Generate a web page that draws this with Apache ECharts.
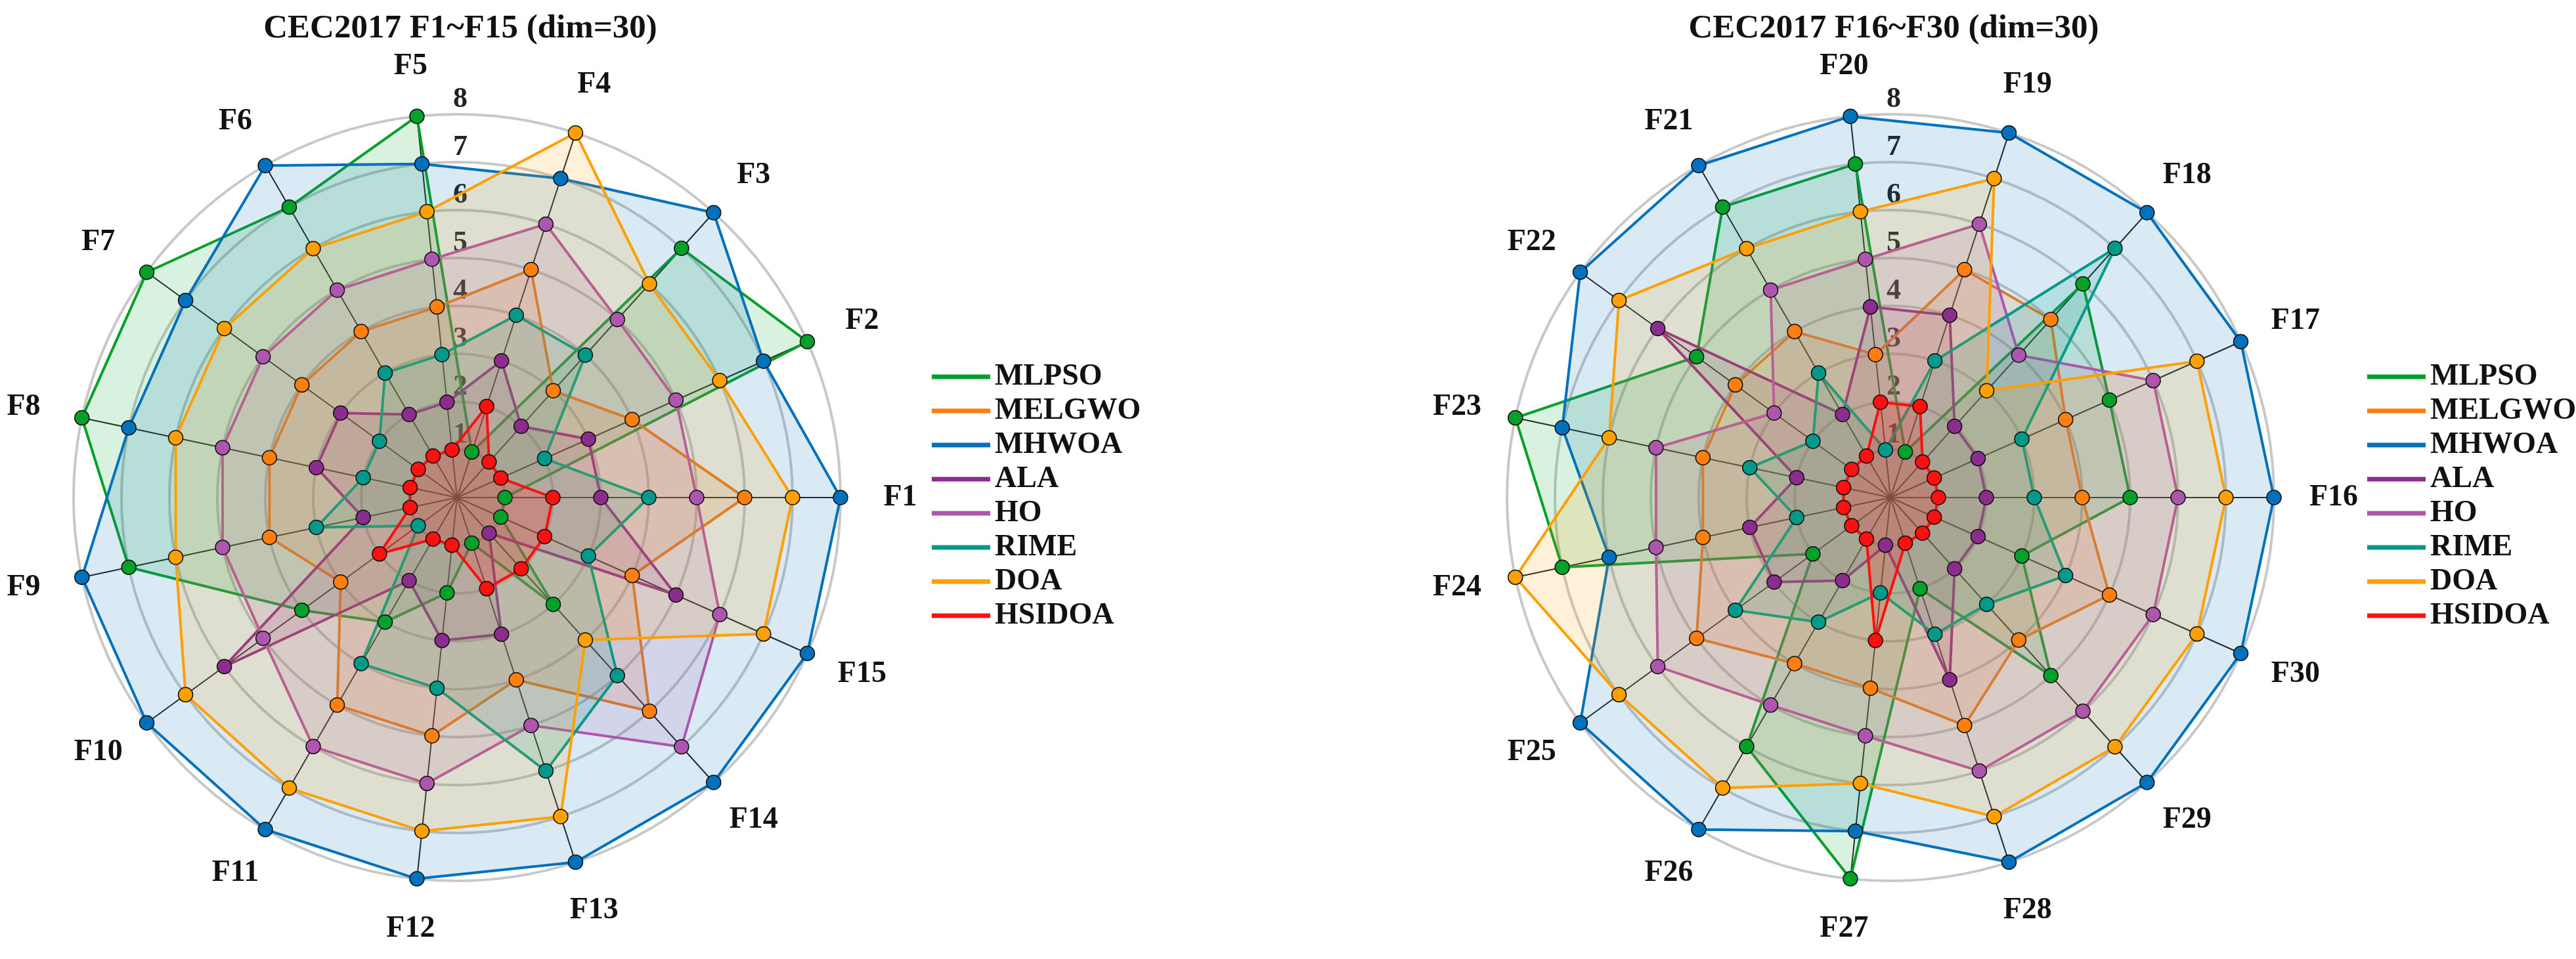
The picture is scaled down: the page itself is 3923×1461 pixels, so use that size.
<!DOCTYPE html>
<html><head><meta charset="utf-8">
<script src="https://cdn.jsdelivr.net/npm/echarts@6/dist/echarts.min.js"></script>
<style>html,body{margin:0;padding:0;background:#fff}#c{width:3923px;height:1461px}</style>
</head><body><div id="c"></div>
<script>
// ---------- data ----------
const algorithms = ['MLPSO', 'MELGWO', 'MHWOA', 'ALA', 'HO', 'RIME', 'DOA', 'HSIDOA'];
const funcsA = ['F1','F2','F3','F4','F5','F6','F7','F8','F9','F10','F11','F12','F13','F14','F15'];
const funcsB = ['F16','F17','F18','F19','F20','F21','F22','F23','F24','F25','F26','F27','F28','F29','F30'];
const radialTicks = ['1','2','3','4','5','6','7','8'];
const titleA = 'CEC2017 F1~F15 (dim=30)';
const titleB = 'CEC2017 F16~F30 (dim=30)';

// Friedman ranks, F1..F15
const rankA_MLPSO  = [1, 8, 7, 1, 8, 7, 8, 8, 7, 4, 3, 2, 1, 3, 1];
const rankA_MELGWO = [6, 4, 3, 5, 4, 4, 4, 4, 4, 3, 5, 5, 4, 6, 4];
const rankA_MHWOA  = [8, 7, 8, 7, 7, 8, 7, 7, 8, 8, 8, 8, 8, 8, 8];
const rankA_ALA    = [3, 3, 2, 3, 2, 2, 3, 3, 2, 6, 2, 3, 3, 1, 5];
const rankA_HO     = [5, 5, 5, 6, 5, 5, 5, 5, 5, 5, 6, 6, 5, 7, 6];
const rankA_RIME   = [4, 2, 4, 4, 3, 3, 2, 2, 3, 1, 4, 4, 6, 5, 3];
const rankA_DOA    = [7, 6, 6, 8, 6, 6, 6, 6, 6, 7, 7, 7, 7, 4, 7];
const rankA_HSIDOA = [2, 1, 1, 2, 1, 1, 1, 1, 1, 2, 1, 1, 2, 2, 2];

// Friedman ranks, F16..F30
const rankB_MLPSO  = [5, 5, 6, 1, 7, 7, 5, 8, 7, 2, 6, 8, 2, 5, 3];
const rankB_MELGWO = [4, 4, 5, 5, 3, 4, 4, 4, 4, 5, 4, 4, 5, 4, 5];
const rankB_MHWOA  = [8, 8, 8, 8, 8, 8, 8, 7, 6, 8, 8, 7, 8, 8, 8];
const rankB_ALA    = [2, 2, 2, 4, 4, 2, 6, 2, 3, 3, 2, 1, 4, 2, 2];
const rankB_HO     = [6, 6, 4, 6, 5, 5, 3, 5, 5, 6, 5, 5, 6, 6, 6];
const rankB_RIME   = [3, 3, 7, 3, 1, 3, 2, 3, 2, 4, 3, 2, 3, 3, 4];
const rankB_DOA    = [7, 7, 3, 7, 6, 6, 7, 6, 8, 7, 7, 6, 7, 7, 7];
const rankB_HSIDOA = [1, 1, 1, 2, 2, 1, 1, 1, 1, 1, 1, 3, 1, 1, 1];

const ranksA = [rankA_MLPSO, rankA_MELGWO, rankA_MHWOA, rankA_ALA, rankA_HO, rankA_RIME, rankA_DOA, rankA_HSIDOA];
const ranksB = [rankB_MLPSO, rankB_MELGWO, rankB_MHWOA, rankB_ALA, rankB_HO, rankB_RIME, rankB_DOA, rankB_HSIDOA];

// ---------- style ----------
const colors = ['#03A02A', '#FF7F0E', '#0072BD', '#8A2D8C', '#AE55AE', '#019A8A', '#FFA000', '#FF1010'];
const serif = '"Liberation Serif", "Times New Roman", serif';
const centers = [[696, 758], [2879, 758]];
const R = 584;
const nameFont = { color: '#111', fontSize: 46, fontWeight: 'bold', fontFamily: serif };

// rich styles that push near-horizontal axis names a little further out
const nameRich = {};
for (let i = 0; i < 15; i++) {
  const c = Math.cos(i * 2 * Math.PI / 15);
  const p = Math.round(28 * Math.abs(c));
  nameRich['a' + i] = Object.assign({}, nameFont, { padding: c >= 0 ? [0, 0, 0, p] : [0, p, 0, 0] });
}

function radarCfg(i, funcs) {
  return {
    center: centers[i], radius: R, startAngle: 0, shape: 'circle', splitNumber: 8,
    indicator: funcs.map(n => ({ name: n, min: 0, max: 8 })),
    nameGap: 77,
    axisName: Object.assign({}, nameFont, {
      align: 'center', verticalAlign: 'middle',
      formatter: name => '{a' + funcs.indexOf(name) + '|' + name + '}',
      rich: nameRich
    }),
    axisLine: { lineStyle: { color: '#222', width: 2 } },
    splitLine: { lineStyle: { color: '#c8c8c8', width: 4 } },
    splitArea: { show: false },
    axisTick: { show: false },
    axisLabel: { show: false }
  };
}

function seriesCfg(i, ranks) {
  return {
    type: 'radar', radarIndex: i, symbol: 'circle', symbolSize: 22,
    data: algorithms.map((name, k) => ({
      name, value: ranks[k],
      itemStyle: { color: colors[k], borderColor: '#111', borderWidth: 1.5 },
      lineStyle: { color: colors[k], width: 4 },
      areaStyle: { color: colors[k], opacity: k === 7 ? 0.2 : 0.15 }
    }))
  };
}

function legendCfg(left) {
  return {
    data: algorithms, orient: 'vertical', left: left, top: 551, padding: 0,
    icon: 'rect', itemWidth: 89, itemHeight: 7, itemGap: 6,
    itemStyle: { borderWidth: 0 },
    textStyle: { fontSize: 46, fontWeight: 'bold', fontFamily: serif, color: '#111', lineHeight: 44, padding: [0, 0, 0, 2] },
    selectedMode: false
  };
}

function radiusAxisCfg(i) {
  return {
    polarIndex: i, type: 'value', min: 0, max: 8, interval: 1,
    axisLine: { show: false }, axisTick: { show: false }, splitLine: { show: false },
    axisLabel: {
      formatter: v => (v >= 1 ? radialTicks[v - 1] : ''),
      fontSize: 44, fontWeight: 'bold', fontFamily: serif, color: '#222',
      margin: -5, align: 'center', verticalAlign: 'bottom'
    }
  };
}

const chart = echarts.init(document.getElementById('c'), null, { renderer: 'canvas' });
chart.setOption({
  backgroundColor: '#fff',
  animation: false,
  title: [
    { text: titleA, left: centers[0][0], top: 13, textAlign: 'center',
      textStyle: { fontSize: 51, fontWeight: 'bold', fontFamily: serif, color: '#111' } },
    { text: titleB, left: centers[1][0], top: 13, textAlign: 'center',
      textStyle: { fontSize: 51, fontWeight: 'bold', fontFamily: serif, color: '#111' } }
  ],
  legend: [legendCfg(1419), legendCfg(3605)],
  polar: [{ center: centers[0], radius: R }, { center: centers[1], radius: R }],
  angleAxis: [
    { polarIndex: 0, type: 'value', min: 0, max: 360, startAngle: 90, show: false },
    { polarIndex: 1, type: 'value', min: 0, max: 360, startAngle: 90, show: false }
  ],
  radiusAxis: [radiusAxisCfg(0), radiusAxisCfg(1)],
  radar: [radarCfg(0, funcsA), radarCfg(1, funcsB)],
  series: [seriesCfg(0, ranksA), seriesCfg(1, ranksB)]
});
</script>
</body></html>
